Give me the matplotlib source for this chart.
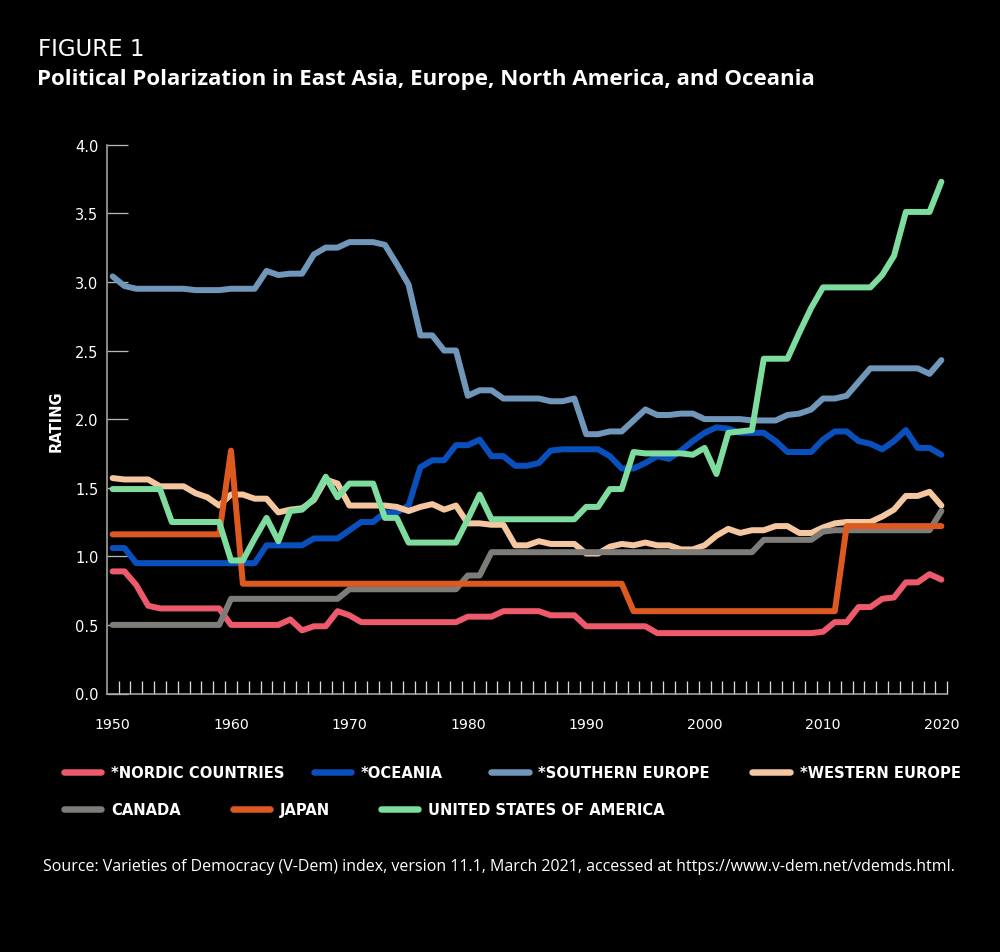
import matplotlib
matplotlib.use("Agg")
import matplotlib.pyplot as plt
from matplotlib.lines import Line2D
from matplotlib.ticker import FixedLocator, FormatStrFormatter

# ---------------- data ----------------
years = list(range(1950, 2021))

nordic = [
    0.89, 0.89, 0.79, 0.64, 0.62, 0.62, 0.62, 0.62, 0.62, 0.62,
    0.50, 0.50, 0.50, 0.50, 0.50, 0.54, 0.46, 0.49, 0.49, 0.60,
    0.57, 0.52, 0.52, 0.52, 0.52, 0.52, 0.52, 0.52, 0.52, 0.52,
    0.56, 0.56, 0.56, 0.60, 0.60, 0.60, 0.60, 0.57, 0.57, 0.57,
    0.49, 0.49, 0.49, 0.49, 0.49, 0.49, 0.44, 0.44, 0.44, 0.44,
    0.44, 0.44, 0.44, 0.44, 0.44, 0.44, 0.44, 0.44, 0.44, 0.44,
    0.45, 0.52, 0.52, 0.63, 0.63, 0.69, 0.70, 0.81, 0.81, 0.87,
    0.83]

oceania = [
    1.06, 1.06, 0.95, 0.95, 0.95, 0.95, 0.95, 0.95, 0.95, 0.95,
    0.95, 0.95, 0.95, 1.08, 1.08, 1.08, 1.08, 1.13, 1.13, 1.13,
    1.19, 1.25, 1.25, 1.32, 1.32, 1.37, 1.65, 1.70, 1.70, 1.81,
    1.81, 1.85, 1.73, 1.73, 1.66, 1.66, 1.68, 1.77, 1.78, 1.78,
    1.78, 1.78, 1.73, 1.64, 1.64, 1.68, 1.73, 1.71, 1.77, 1.84,
    1.90, 1.94, 1.93, 1.90, 1.90, 1.90, 1.84, 1.76, 1.76, 1.76,
    1.85, 1.91, 1.91, 1.84, 1.82, 1.78, 1.84, 1.92, 1.79, 1.79,
    1.74]

southern_europe = [
    3.04, 2.97, 2.95, 2.95, 2.95, 2.95, 2.95, 2.94, 2.94, 2.94,
    2.95, 2.95, 2.95, 3.08, 3.05, 3.06, 3.06, 3.20, 3.25, 3.25,
    3.29, 3.29, 3.29, 3.27, 3.13, 2.98, 2.61, 2.61, 2.50, 2.50,
    2.17, 2.21, 2.21, 2.15, 2.15, 2.15, 2.15, 2.13, 2.13, 2.15,
    1.89, 1.89, 1.91, 1.91, 1.99, 2.07, 2.03, 2.03, 2.04, 2.04,
    2.00, 2.00, 2.00, 2.00, 1.99, 1.99, 1.99, 2.03, 2.04, 2.07,
    2.15, 2.15, 2.17, 2.27, 2.37, 2.37, 2.37, 2.37, 2.37, 2.33,
    2.43]

western_europe = [
    1.57, 1.56, 1.56, 1.56, 1.51, 1.51, 1.51, 1.46, 1.43, 1.37,
    1.45, 1.45, 1.42, 1.42, 1.32, 1.34, 1.35, 1.41, 1.56, 1.53,
    1.37, 1.37, 1.37, 1.37, 1.36, 1.33, 1.36, 1.38, 1.34, 1.37,
    1.24, 1.24, 1.23, 1.23, 1.08, 1.08, 1.11, 1.09, 1.09, 1.09,
    1.02, 1.02, 1.07, 1.09, 1.08, 1.10, 1.08, 1.08, 1.05, 1.05,
    1.08, 1.15, 1.20, 1.17, 1.19, 1.19, 1.22, 1.22, 1.17, 1.17,
    1.21, 1.24, 1.25, 1.25, 1.25, 1.29, 1.34, 1.44, 1.44, 1.47,
    1.37]

canada = [
    0.50, 0.50, 0.50, 0.50, 0.50, 0.50, 0.50, 0.50, 0.50, 0.50,
    0.69, 0.69, 0.69, 0.69, 0.69, 0.69, 0.69, 0.69, 0.69, 0.69,
    0.76, 0.76, 0.76, 0.76, 0.76, 0.76, 0.76, 0.76, 0.76, 0.76,
    0.86, 0.86, 1.03, 1.03, 1.03, 1.03, 1.03, 1.03, 1.03, 1.03,
    1.03, 1.03, 1.03, 1.03, 1.03, 1.03, 1.03, 1.03, 1.03, 1.03,
    1.03, 1.03, 1.03, 1.03, 1.03, 1.12, 1.12, 1.12, 1.12, 1.12,
    1.18, 1.19, 1.19, 1.19, 1.19, 1.19, 1.19, 1.19, 1.19, 1.19,
    1.33]

japan = [
    1.16, 1.16, 1.16, 1.16, 1.16, 1.16, 1.16, 1.16, 1.16, 1.16,
    1.77, 0.80, 0.80, 0.80, 0.80, 0.80, 0.80, 0.80, 0.80, 0.80,
    0.80, 0.80, 0.80, 0.80, 0.80, 0.80, 0.80, 0.80, 0.80, 0.80,
    0.80, 0.80, 0.80, 0.80, 0.80, 0.80, 0.80, 0.80, 0.80, 0.80,
    0.80, 0.80, 0.80, 0.80, 0.60, 0.60, 0.60, 0.60, 0.60, 0.60,
    0.60, 0.60, 0.60, 0.60, 0.60, 0.60, 0.60, 0.60, 0.60, 0.60,
    0.60, 0.60, 1.22, 1.22, 1.22, 1.22, 1.22, 1.22, 1.22, 1.22,
    1.22]

usa = [
    1.49, 1.49, 1.49, 1.49, 1.49, 1.25, 1.25, 1.25, 1.25, 1.25,
    0.97, 0.97, 1.13, 1.28, 1.11, 1.33, 1.34, 1.42, 1.58, 1.43,
    1.53, 1.53, 1.53, 1.28, 1.28, 1.10, 1.10, 1.10, 1.10, 1.10,
    1.27, 1.45, 1.27, 1.27, 1.27, 1.27, 1.27, 1.27, 1.27, 1.27,
    1.36, 1.36, 1.49, 1.49, 1.76, 1.75, 1.75, 1.75, 1.75, 1.74,
    1.79, 1.60, 1.90, 1.91, 1.92, 2.44, 2.44, 2.44, 2.63, 2.81,
    2.96, 2.96, 2.96, 2.96, 2.96, 3.05, 3.19, 3.51, 3.51, 3.51,
    3.73]

series_labels = ["*NORDIC COUNTRIES", "*OCEANIA", "*SOUTHERN EUROPE", "*WESTERN EUROPE",
                 "CANADA", "JAPAN", "UNITED STATES OF AMERICA"]
series_values = [nordic, oceania, southern_europe, western_europe, canada, japan, usa]
series_colors = ["#ec5a6b", "#0a50bd", "#7096ba", "#f4c7a0", "#7d7c78", "#dc5a20", "#7ddc9e"]

y_ticks = [0.0, 0.5, 1.0, 1.5, 2.0, 2.5, 3.0, 3.5, 4.0]
x_label_years = [1950, 1960, 1970, 1980, 1990, 2000, 2010, 2020]

# ---------------- figure ----------------
W, H = 1000, 953
plt.rcParams['font.family'] = ['DejaVu Sans']
fig = plt.figure(figsize=(W / 100, H / 100), dpi=100, facecolor='black')


def fx(x):
    return x / W


def fy(y):
    return 1 - y / H


def px2pt(p):
    return p * 72.0 / 100.0


ax_l, ax_r, ax_t, ax_b = 106.7, 947.3, 145.7, 694.5
ax = fig.add_axes([fx(ax_l), fy(ax_b), (ax_r - ax_l) / W, (ax_b - ax_t) / H])
ax.set_facecolor('black')

lw = px2pt(6.0)
for vals, col in zip(series_values, series_colors):
    ax.plot(years, vals, color=col, lw=lw, solid_capstyle='round',
            solid_joinstyle='round', clip_on=False)

ax.set_xlim(1949.5, 2020.5)
ax.set_ylim(0, 4)

for s in ['top', 'right']:
    ax.spines[s].set_visible(False)
for s in ['left', 'bottom']:
    ax.spines[s].set_color('#a8a8a8')
    ax.spines[s].set_linewidth(px2pt(1.6))

ax.yaxis.set_major_locator(FixedLocator(y_ticks))
ax.yaxis.set_major_formatter(FormatStrFormatter('%.1f'))
ax.tick_params(axis='y', which='major', direction='in', length=px2pt(21),
               width=px2pt(1.3), color='#b8b8b8', labelcolor='white',
               labelsize=10.5, pad=6)

ax.xaxis.set_major_locator(FixedLocator(x_label_years))
ax.xaxis.set_minor_locator(FixedLocator([y + 0.5 for y in years]))
ax.tick_params(axis='x', which='major', length=0, labelcolor='white',
               labelsize=10.2, pad=17)
ax.tick_params(axis='x', which='minor', direction='in', length=px2pt(12.7),
               width=px2pt(1.3), color='#d8d8d8')

# ---------------- texts ----------------
renderer = fig.canvas.get_renderer()


def fit_width(t, target):
    w = t.get_window_extent(renderer).width
    t.set_fontsize(t.get_fontsize() * target / w)


fig.text(fx(38), fy(56), "FIGURE 1", color='white', fontsize=16.5,
         family=['DejaVu Sans'], ha='left', va='baseline')

title = fig.text(fx(37), fy(85),
                 "Political Polarization in East Asia, Europe, North America, and Oceania",
                 color='white', fontsize=14, fontweight='bold',
                 family=['Open Sans', 'DejaVu Sans'], ha='left', va='baseline')
fit_width(title, 783)

fig.text(fx(61), fy(421), "RATING", color='white', fontsize=10.5,
         fontweight='bold', rotation=90, rotation_mode='anchor',
         ha='center', va='baseline')

# legend (flow layout)
leg_pos = [(60.6, 772.5), (310.6, 772.5), (488.0, 772.5), (749.4, 772.5),
           (60.6, 810.0), (229.6, 810.0), (377.6, 810.0)]
for (lx, ly), lab, col in zip(leg_pos, series_labels, series_colors):
    fig.add_artist(Line2D([fx(lx + 3), fx(lx + 40.5)], [fy(ly), fy(ly)],
                          color=col, lw=px2pt(6.5), solid_capstyle='round'))
    fig.text(fx(lx + 50.5), fy(ly + 5.3), lab, color='white', fontsize=10.6,
             fontweight='bold', ha='left', va='baseline')

src = fig.text(fx(43), fy(871.5),
               "Source: Varieties of Democracy (V-Dem) index, version 11.1, March 2021, "
               "accessed at https://www.v-dem.net/vdemds.html.",
               color='white', fontsize=11, family=['Open Sans', 'DejaVu Sans'],
               ha='left', va='baseline')
fit_width(src, 918)

fig.savefig("out.png", dpi=100, facecolor='black')
